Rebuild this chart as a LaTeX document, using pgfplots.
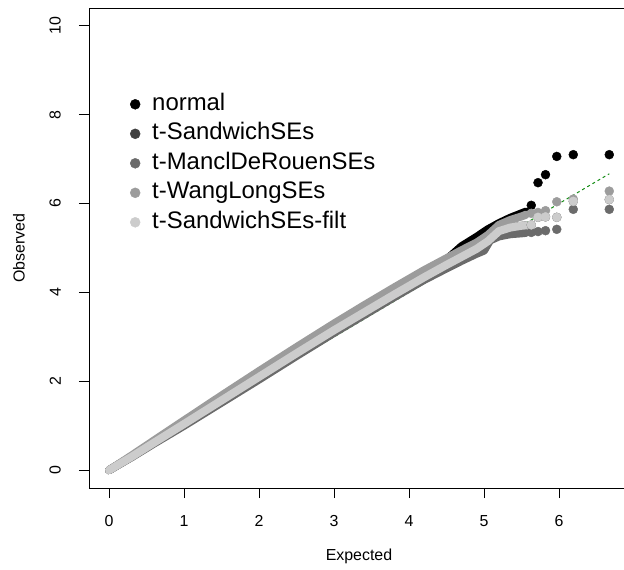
\documentclass[border=0pt]{standalone}
\usepackage{fontspec}
\setmainfont{Liberation Sans}
\usepackage{pgfplots}
\pgfplotsset{compat=1.18}

\definecolor{cSand}{gray}{0.25}
\definecolor{cMancl}{gray}{0.42}
\definecolor{cWang}{gray}{0.61}
\definecolor{cFilt}{gray}{0.80}
\definecolor{cLine}{RGB}{20,140,20}

\pgfplotsset{
  band/.style={line width=8bp, line cap=round, line join=round, forget plot},
  tail/.style={only marks, mark=*, mark size=4.5bp},
}

\begin{document}
\begin{tikzpicture}
\begin{axis}[
    name=qq,
    scale only axis,
    width=540bp, height=480bp,
    xmin=-0.267, xmax=6.933,
    ymin=-0.4, ymax=10.4,
    xtick={0,1,2,3,4,5,6},
    ytick={0,2,4,6,8,10},
    xtick pos=bottom, ytick pos=left,
    tick align=outside,
    major tick length=10bp,
    axis line style={line width=0.8bp},
    tick style={line width=0.8bp, black},
    /pgf/number format/assume math mode=true,
    tick label style={font=\fontsize{16}{16}\selectfont, inner sep=0pt},
    xticklabel style={anchor=north, yshift=-17bp},
    yticklabel style={xshift=-18bp, rotate=90, anchor=south},
    xlabel={Expected}, ylabel={Observed},
    every axis x label/.style={at={(axis description cs:0.5,-0.1417)}, anchor=center,
      font=\fontsize{16}{16}\selectfont},
    every axis y label/.style={at={(axis description cs:-0.1296,0.5)}, rotate=90, anchor=center,
      font=\fontsize{16}{16}\selectfont},
    legend style={draw=none, fill=none, at={(axis cs:0.24,8.53)}, anchor=north west,
      font=\fontsize{24}{24}\selectfont, row sep=7.5bp, column sep=0pt,
      nodes={inner sep=0pt, text height=17bp, text depth=5bp}},
    legend cell align=left,
    legend image code/.code={
      \path[draw=none] (-5bp,0bp) -- (17bp,0bp);
      \draw[#1, only marks, mark size=5bp] plot coordinates {(0bp,0bp)};
    },
]

% reference line y = x
\addplot[cLine, dashed, line width=1bp, forget plot] coordinates {(0,0) (6.67,6.67)};

% normal
\addplot[band, black] coordinates {
(0,0) (0.3,0.31) (0.6,0.64) (1.0,1.07) (1.5,1.61) (2.0,2.15) (2.5,2.69) (3.0,3.21)
(3.4,3.62) (3.8,4.02) (4.2,4.42) (4.5,4.74) (4.7,5.04) (4.9,5.25) (5.05,5.42)
(5.2,5.56) (5.35,5.68) (5.5,5.78) (5.56,5.82)};
\addplot[tail, black] coordinates {
(5.63,5.96) (5.72,6.47) (5.82,6.65) (5.97,7.06) (6.19,7.10) (6.67,7.10)};
\addlegendentry{normal}

% t-SandwichSEs
\addplot[band, cSand] coordinates {
(0,0) (0.3,0.3) (0.6,0.63) (1.0,1.05) (1.5,1.58) (2.0,2.11) (2.5,2.64) (3.0,3.16)
(3.4,3.56) (3.8,3.96) (4.2,4.35) (4.5,4.63) (4.7,4.81) (4.9,4.99) (5.05,5.16)
(5.2,5.38) (5.35,5.46) (5.5,5.5) (5.56,5.51)};
\addplot[tail, cSand] coordinates {
(5.63,5.52) (5.72,5.69) (5.82,5.70) (5.97,5.69) (6.19,6.05) (6.67,6.09)};
\addlegendentry{t-SandwichSEs}

% t-ManclDeRouenSEs
\addplot[band, cMancl] coordinates {
(0,0) (0.3,0.29) (0.6,0.6) (1.0,1.0) (1.5,1.52) (2.0,2.04) (2.5,2.57) (3.0,3.09)
(3.4,3.49) (3.8,3.89) (4.2,4.28) (4.5,4.54) (4.7,4.71) (4.9,4.87) (5.0,4.94)
(5.08,5.17) (5.2,5.26) (5.35,5.31) (5.5,5.33) (5.56,5.34)};
\addplot[tail, cMancl] coordinates {
(5.63,5.35) (5.72,5.37) (5.82,5.39) (5.97,5.42) (6.19,5.87) (6.67,5.87)};
\addlegendentry{t-ManclDeRouenSEs}

% t-WangLongSEs
\addplot[band, cWang] coordinates {
(0,0) (0.3,0.33) (0.6,0.67) (1.0,1.12) (1.5,1.68) (2.0,2.23) (2.5,2.77) (3.0,3.3)
(3.4,3.71) (3.8,4.11) (4.2,4.5) (4.5,4.77) (4.7,4.95) (4.9,5.12) (5.05,5.29)
(5.2,5.52) (5.35,5.63) (5.5,5.71) (5.56,5.75)};
\addplot[tail, cWang] coordinates {
(5.63,5.78) (5.72,5.80) (5.82,5.84) (5.97,6.04) (6.19,6.10) (6.67,6.28)};
\addlegendentry{t-WangLongSEs}

% t-SandwichSEs-filt
\addplot[band, cFilt] coordinates {
(0,0) (0.3,0.3) (0.6,0.62) (1.0,1.04) (1.5,1.57) (2.0,2.1) (2.5,2.63) (3.0,3.15)
(3.4,3.55) (3.8,3.95) (4.2,4.34) (4.5,4.62) (4.7,4.8) (4.9,4.98) (5.05,5.15)
(5.2,5.38) (5.35,5.46) (5.5,5.5) (5.56,5.51)};
\addplot[tail, cFilt] coordinates {
(5.63,5.52) (5.72,5.69) (5.82,5.70) (5.97,5.69) (6.19,6.05) (6.67,6.09)};
\addlegendentry{t-SandwichSEs-filt}

\end{axis}
\pgfresetboundingbox
\path (qq.south west) ++(-89bp,-82bp) rectangle ++(624bp,570bp);
\end{tikzpicture}
\end{document}
